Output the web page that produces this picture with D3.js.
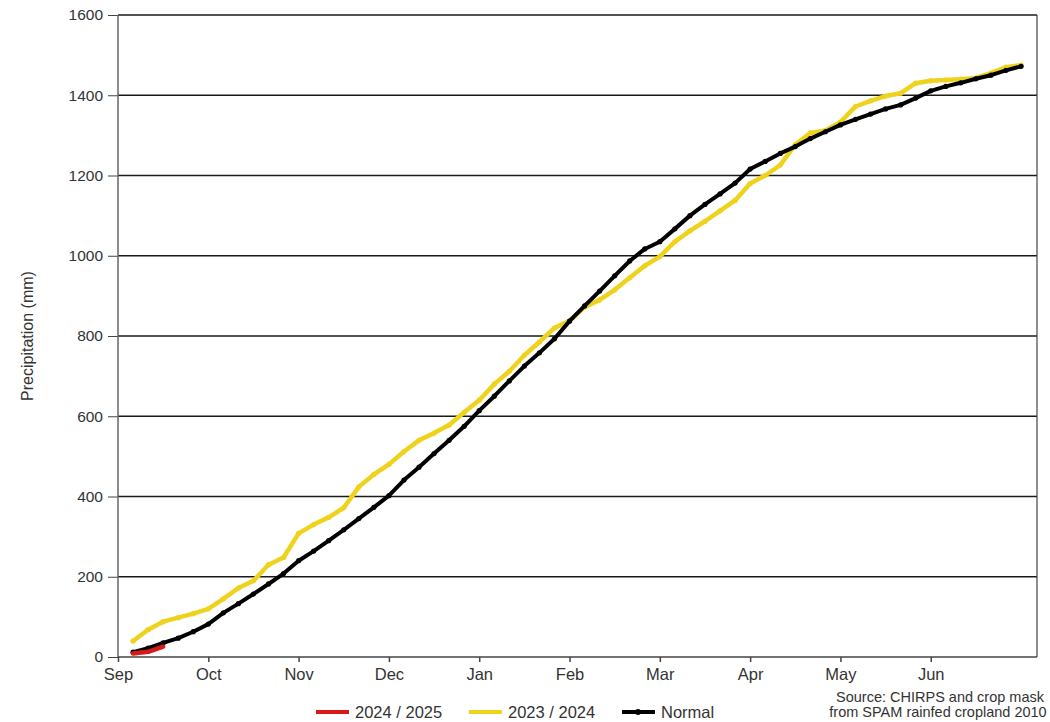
<!DOCTYPE html>
<html>
<head>
<meta charset="utf-8">
<script src="https://cdn.jsdelivr.net/npm/d3@7"></script>
<style>
  body { margin: 0; background: #fff; }
  svg text { font-family: "Liberation Sans", Arial, sans-serif; fill: #333; }
</style>
</head>
<body>
<svg id="chart" width="1050" height="722"></svg>
<script>
// pentad values, Sep 1st pentad .. Jun last pentad
const months = ["Sep", "Oct", "Nov", "Dec", "Jan", "Feb", "Mar", "Apr", "May", "Jun"];
const season2425 = [9, 13, 26];
const season2324 = [40, 68, 88, 98, 108, 120, 145, 172, 190, 230,
  248, 308, 330, 348, 372, 424, 455, 480, 512, 540,
  558, 578, 610, 640, 680, 712, 752, 785, 820, 838,
  872, 890, 915, 945, 975, 998, 1035, 1062, 1086, 1112,
  1138, 1180, 1200, 1226, 1277, 1306, 1312, 1333, 1372, 1386,
  1398, 1405, 1430, 1436, 1438, 1440, 1443, 1455, 1470, 1475];
const normal = [12, 22, 35, 47, 63, 82, 110, 133, 157, 182,
  208, 240, 264, 290, 317, 345, 373, 402, 441, 473,
  507, 540, 575, 614, 650, 688, 725, 758, 793, 837,
  875, 912, 950, 987, 1017, 1035, 1067, 1100, 1128, 1154,
  1181, 1216, 1235, 1255, 1272, 1292, 1309, 1326, 1340, 1353,
  1366, 1376, 1393, 1411, 1422, 1431, 1441, 1450, 1462, 1472];
const yTicks = [0, 200, 400, 600, 800, 1000, 1200, 1400, 1600];

const svg = d3.select("svg#chart");
const pLeft = 118, pRight = 1037, pTop = 15, pBottom = 657;

const x = d3.scaleLinear().domain([0, 61.06]).range([pLeft, pRight]);
const y = d3.scaleLinear().domain([0, 1600]).range([pBottom, pTop]);

// grid lines + y axis ticks
const yAxis = svg.append("g")
    .attr("transform", "translate(" + pLeft + ",0)")
    .call(d3.axisLeft(y).tickValues(yTicks).tickFormat(d3.format("d")).tickSize(10).tickPadding(5));
yAxis.select(".domain").remove();
yAxis.selectAll("line").attr("stroke", "#444");
yAxis.selectAll("text").style("font-size", "15.5px").attr("fill", "#333");

svg.append("g").selectAll("line")
  .data(yTicks.filter(d => d > 0))
  .enter().append("line")
    .attr("x1", pLeft).attr("x2", pRight)
    .attr("y1", d => y(d)).attr("y2", d => y(d))
    .attr("stroke", "#1a1a1a").attr("stroke-width", 1.3);

// frame: left and right verticals
svg.append("line").attr("x1", pLeft).attr("x2", pLeft).attr("y1", pTop).attr("y2", pBottom)
  .attr("stroke", "#666").attr("stroke-width", 1.5);
svg.append("line").attr("x1", pRight).attr("x2", pRight).attr("y1", pTop).attr("y2", pBottom)
  .attr("stroke", "#444").attr("stroke-width", 1.2);

// x axis with month ticks
const xAxis = svg.append("g")
    .attr("transform", "translate(0," + pBottom + ")")
    .call(d3.axisBottom(x).tickValues(months.map((m, i) => i * 6))
      .tickFormat((d, i) => months[i]).tickSize(5).tickPadding(6));
xAxis.select(".domain").attr("d", "M" + pLeft + ",0H" + pRight).attr("stroke", "#444").attr("stroke-width", 1.5);
xAxis.selectAll("line").attr("stroke", "#444").attr("stroke-width", 1.5);
xAxis.selectAll("text").style("font-size", "16.5px").attr("fill", "#333");

// y label
svg.append("text")
  .attr("transform", "translate(33,336) rotate(-90)")
  .attr("text-anchor", "middle")
  .style("font-size", "16px")
  .text("Precipitation (mm)");

const line = d3.line().x((d, i) => x(i + 1)).y(d => y(d));

svg.append("path").datum(season2324)
  .attr("fill", "none").attr("stroke", "#efd21c").attr("stroke-width", 4.5)
  .attr("stroke-linejoin", "round").attr("stroke-linecap", "round")
  .attr("d", line);
svg.append("g").selectAll("circle").data(season2324).enter().append("circle")
  .attr("cx", (d, i) => x(i + 1)).attr("cy", d => y(d)).attr("r", 2.6).attr("fill", "#efd21c");

svg.append("path").datum(normal)
  .attr("fill", "none").attr("stroke", "#000").attr("stroke-width", 4)
  .attr("stroke-linejoin", "round").attr("stroke-linecap", "round")
  .attr("d", line);
svg.append("g").selectAll("circle").data(normal).enter().append("circle")
  .attr("cx", (d, i) => x(i + 1)).attr("cy", d => y(d)).attr("r", 2.6).attr("fill", "#000");

svg.append("path").datum(season2425)
  .attr("fill", "none").attr("stroke", "#d7191c").attr("stroke-width", 4.5)
  .attr("stroke-linejoin", "round").attr("stroke-linecap", "round")
  .attr("d", line);

// legend
const legend = [
  {name: "2024 / 2025", color: "#d7191c", x: 316, dot: false},
  {name: "2023 / 2024", color: "#efd21c", x: 469, dot: false},
  {name: "Normal", color: "#000", x: 622, dot: true}
];
const lg = svg.append("g").selectAll("g").data(legend).enter().append("g")
  .attr("transform", d => "translate(" + d.x + ",712)");
lg.append("line").attr("x1", 0).attr("x2", 33).attr("y1", 0).attr("y2", 0)
  .attr("stroke", d => d.color).attr("stroke-width", 4);
lg.filter(d => d.dot).append("circle").attr("cx", 16).attr("cy", 0).attr("r", 3).attr("fill", "#000");
lg.append("text").attr("x", 39).attr("y", 6).style("font-size", "16.5px").text(d => d.name);

// source note
svg.append("text").attr("x", 940).attr("y", 702).attr("text-anchor", "middle")
  .style("font-size", "14.5px").text("Source: CHIRPS and crop mask");
svg.append("text").attr("x", 938).attr("y", 717).attr("text-anchor", "middle")
  .style("font-size", "14.5px").text("from SPAM rainfed cropland 2010");
</script>
</body>
</html>
